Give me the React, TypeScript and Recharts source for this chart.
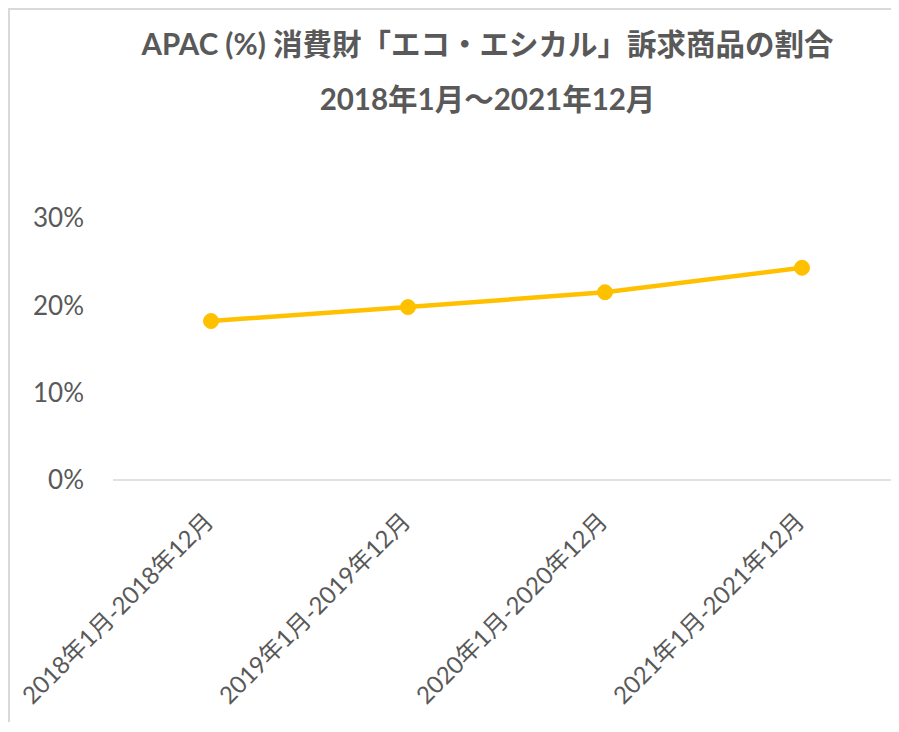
import { LineChart, Line, XAxis, YAxis } from "recharts";

const categories = ["2018年1月-2018年12月", "2019年1月-2019年12月", "2020年1月-2020年12月", "2021年1月-2021年12月"];
const shares = [0.182, 0.198, 0.215, 0.243];
const yTicks = [0, 0.1, 0.2, 0.3];
const titleLines = ["APAC (%) 消費財「エコ・エシカル」訴求商品の割合", "2018年1月～2021年12月"];

const rows = categories.map((period, i) => ({ period, share: shares[i] }));

const FONT = "Lato, 'Noto Sans CJK JP', sans-serif";
const GRAY = "#595959";

function SlantTick(props: any) {
  const { x, y, payload } = props;
  return (
    <g transform={`translate(${x - 2},${y + 29}) rotate(-45)`}>
      <text textAnchor="end" dy="0.35em" fill={GRAY} fontSize={24} fontFamily={FONT}>
        {payload.value}
      </text>
    </g>
  );
}

export default function App() {
  return (
    <div
      style={{
        position: "relative",
        width: 889,
        height: 712,
        overflow: "hidden",
        borderTop: "2px solid #d9d9d9",
        borderLeft: "2px solid #d9d9d9",
        fontFamily: FONT,
      }}
    >
      <div style={{ position: "absolute", left: 0, width: 955, top: 0, textAlign: "center", color: GRAY, fontWeight: 700, fontSize: 29.5 }}>
        <div style={{ position: "absolute", width: "100%", top: 18, lineHeight: "32px" }}>{titleLines[0]}</div>
        <div style={{ position: "absolute", width: "100%", top: 73, lineHeight: "32px" }}>{titleLines[1]}</div>
      </div>
      <div style={{ position: "absolute", left: 0, top: 0 }}>
        <LineChart width={940} height={720} data={rows} margin={{ top: 208, right: 50, left: 23, bottom: 50 }}>
          <XAxis
            dataKey="period"
            tick={<SlantTick />}
            tickLine={false}
            axisLine={{ stroke: "#d9d9d9", strokeWidth: 1.5 }}
            interval={0}
            height={200}
            padding={{ left: 98, right: 98 }}
          />
          <YAxis
            domain={[0, 0.3]}
            ticks={yTicks}
            tickFormatter={(v) => `${Math.round(v * 100)}%`}
            tick={{ fill: GRAY, fontSize: 26, fontFamily: FONT }}
            axisLine={false}
            tickLine={false}
            tickSize={0}
            tickMargin={29}
            width={80}
          />
          <Line
            dataKey="share"
            stroke="#FFC000"
            strokeWidth={4.5}
            dot={{ r: 7.5, fill: "#FFC000", stroke: "#FFC000", strokeWidth: 1 }}
            isAnimationActive={false}
          />
        </LineChart>
      </div>
    </div>
  );
}
